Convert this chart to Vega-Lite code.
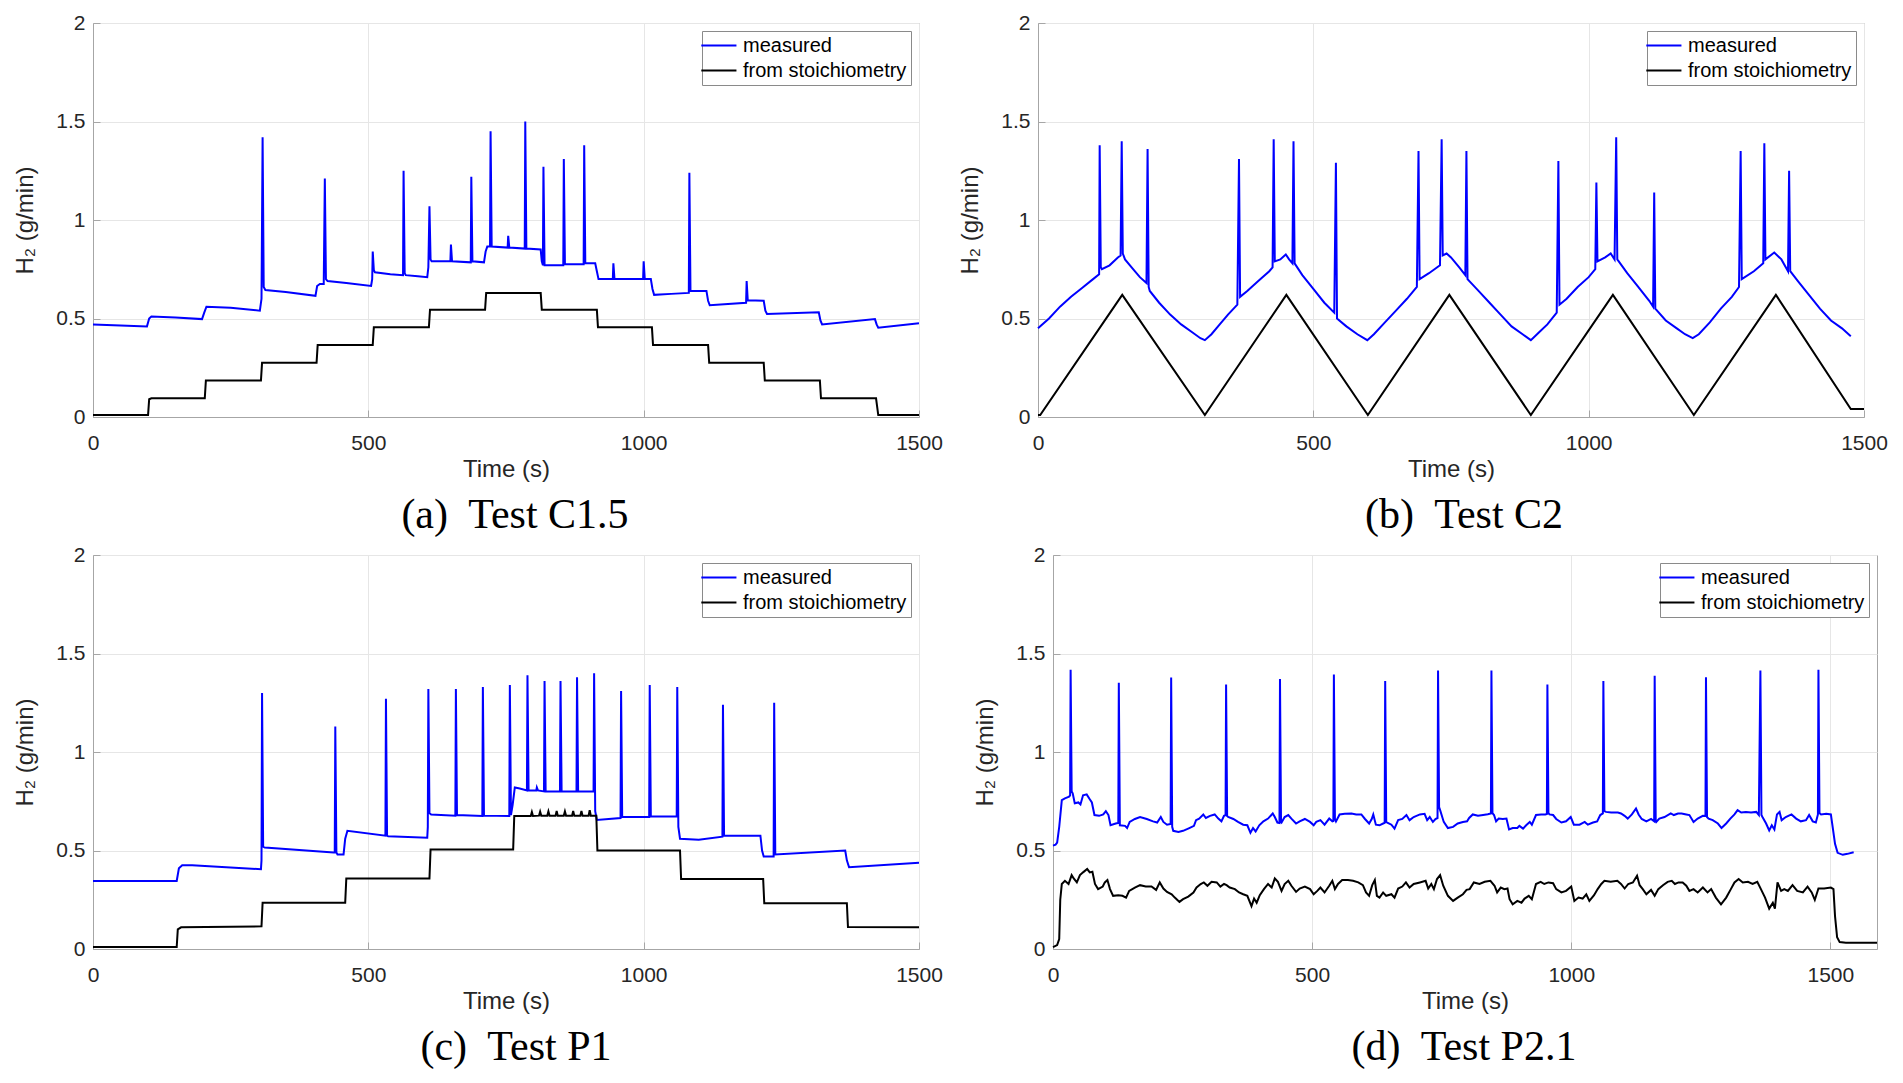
{
  "$schema": "https://vega.github.io/schema/vega-lite/v6.json",
  "autosize": {"type": "pad"},
  "padding": {"left": 12, "top": 11, "right": 10, "bottom": 10},
  "background": "white",
  "datasets": {
    "aM": [{"t":0,"v":0.47},{"t":50,"v":0.465},{"t":98,"v":0.46},{"t":102,"v":0.5},{"t":106,"v":0.51},{"t":150,"v":0.505},{"t":198,"v":0.497},{"t":202,"v":0.53},{"t":206,"v":0.56},{"t":250,"v":0.555},{"t":303,"v":0.54},{"t":306,"v":0.6},{"t":308,"v":1.42},{"t":310,"v":0.66},{"t":313,"v":0.645},{"t":350,"v":0.635},{"t":404,"v":0.615},{"t":407,"v":0.665},{"t":412,"v":0.675},{"t":419,"v":0.675},{"t":421,"v":1.21},{"t":423,"v":0.7},{"t":426,"v":0.69},{"t":460,"v":0.68},{"t":505,"v":0.665},{"t":507,"v":0.7},{"t":508,"v":0.84},{"t":510,"v":0.745},{"t":512,"v":0.735},{"t":540,"v":0.725},{"t":563,"v":0.72},{"t":564,"v":1.25},{"t":566,"v":0.73},{"t":568,"v":0.72},{"t":590,"v":0.715},{"t":607,"v":0.71},{"t":609,"v":0.76},{"t":611,"v":1.07},{"t":613,"v":0.8},{"t":615,"v":0.79},{"t":649,"v":0.79},{"t":650,"v":0.875},{"t":652,"v":0.79},{"t":686,"v":0.785},{"t":687,"v":1.22},{"t":689,"v":0.79},{"t":710,"v":0.785},{"t":713,"v":0.84},{"t":716,"v":0.865},{"t":721,"v":0.865},{"t":722,"v":1.45},{"t":724,"v":0.865},{"t":753,"v":0.86},{"t":754,"v":0.92},{"t":756,"v":0.86},{"t":784,"v":0.855},{"t":785,"v":1.5},{"t":787,"v":0.855},{"t":813,"v":0.85},{"t":815,"v":0.79},{"t":817,"v":0.77},{"t":818,"v":1.27},{"t":820,"v":0.77},{"t":854,"v":0.77},{"t":855,"v":1.31},{"t":857,"v":0.775},{"t":891,"v":0.775},{"t":892,"v":1.38},{"t":894,"v":0.78},{"t":912,"v":0.78},{"t":915,"v":0.74},{"t":918,"v":0.7},{"t":944,"v":0.7},{"t":945,"v":0.78},{"t":947,"v":0.7},{"t":999,"v":0.7},{"t":1000,"v":0.79},{"t":1002,"v":0.7},{"t":1013,"v":0.7},{"t":1016,"v":0.65},{"t":1019,"v":0.62},{"t":1050,"v":0.625},{"t":1082,"v":0.63},{"t":1083,"v":1.24},{"t":1085,"v":0.64},{"t":1114,"v":0.64},{"t":1117,"v":0.59},{"t":1120,"v":0.567},{"t":1186,"v":0.58},{"t":1187,"v":0.69},{"t":1189,"v":0.593},{"t":1218,"v":0.59},{"t":1221,"v":0.54},{"t":1224,"v":0.523},{"t":1318,"v":0.532},{"t":1321,"v":0.49},{"t":1324,"v":0.47},{"t":1420,"v":0.497},{"t":1423,"v":0.47},{"t":1426,"v":0.453},{"t":1500,"v":0.476}],
    "aS": [{"t":0,"v":0.01},{"t":100,"v":0.01},{"t":102,"v":0.09},{"t":106,"v":0.095},{"t":203,"v":0.095},{"t":205,"v":0.185},{"t":305,"v":0.185},{"t":307,"v":0.275},{"t":406,"v":0.275},{"t":408,"v":0.365},{"t":508,"v":0.365},{"t":510,"v":0.455},{"t":610,"v":0.455},{"t":612,"v":0.545},{"t":712,"v":0.545},{"t":714,"v":0.63},{"t":813,"v":0.63},{"t":815,"v":0.545},{"t":915,"v":0.545},{"t":917,"v":0.455},{"t":1015,"v":0.455},{"t":1017,"v":0.365},{"t":1117,"v":0.365},{"t":1119,"v":0.275},{"t":1218,"v":0.275},{"t":1220,"v":0.185},{"t":1320,"v":0.185},{"t":1322,"v":0.095},{"t":1422,"v":0.095},{"t":1426,"v":0.01},{"t":1500,"v":0.01}],
    "bM": [{"t":0,"v":0.45},{"t":20,"v":0.5},{"t":40,"v":0.56},{"t":60,"v":0.61},{"t":80,"v":0.655},{"t":100,"v":0.7},{"t":111,"v":0.725},{"t":112,"v":1.38},{"t":114,"v":0.76},{"t":116,"v":0.75},{"t":130,"v":0.77},{"t":145,"v":0.81},{"t":150,"v":0.82},{"t":152,"v":1.4},{"t":154,"v":0.83},{"t":158,"v":0.8},{"t":170,"v":0.76},{"t":185,"v":0.71},{"t":197,"v":0.68},{"t":199,"v":1.36},{"t":201,"v":0.66},{"t":203,"v":0.64},{"t":220,"v":0.58},{"t":240,"v":0.52},{"t":260,"v":0.47},{"t":280,"v":0.43},{"t":295,"v":0.4},{"t":303,"v":0.39},{"t":315,"v":0.42},{"t":330,"v":0.47},{"t":345,"v":0.52},{"t":362,"v":0.57},{"t":365,"v":1.31},{"t":367,"v":0.61},{"t":380,"v":0.64},{"t":400,"v":0.69},{"t":420,"v":0.74},{"t":426,"v":0.76},{"t":428,"v":1.41},{"t":430,"v":0.79},{"t":440,"v":0.8},{"t":450,"v":0.825},{"t":456,"v":0.8},{"t":462,"v":0.78},{"t":464,"v":1.4},{"t":466,"v":0.78},{"t":480,"v":0.72},{"t":500,"v":0.65},{"t":520,"v":0.58},{"t":538,"v":0.53},{"t":541,"v":1.29},{"t":543,"v":0.5},{"t":560,"v":0.46},{"t":580,"v":0.42},{"t":598,"v":0.39},{"t":610,"v":0.42},{"t":630,"v":0.48},{"t":650,"v":0.54},{"t":670,"v":0.6},{"t":688,"v":0.66},{"t":691,"v":1.35},{"t":693,"v":0.7},{"t":710,"v":0.73},{"t":730,"v":0.77},{"t":733,"v":1.41},{"t":735,"v":0.82},{"t":742,"v":0.83},{"t":750,"v":0.81},{"t":765,"v":0.76},{"t":776,"v":0.72},{"t":778,"v":1.35},{"t":780,"v":0.7},{"t":800,"v":0.64},{"t":820,"v":0.58},{"t":840,"v":0.52},{"t":860,"v":0.46},{"t":880,"v":0.42},{"t":895,"v":0.39},{"t":910,"v":0.43},{"t":925,"v":0.47},{"t":942,"v":0.53},{"t":945,"v":1.3},{"t":947,"v":0.57},{"t":960,"v":0.6},{"t":980,"v":0.66},{"t":1000,"v":0.71},{"t":1012,"v":0.75},{"t":1014,"v":1.19},{"t":1016,"v":0.79},{"t":1030,"v":0.81},{"t":1040,"v":0.83},{"t":1047,"v":0.8},{"t":1050,"v":1.42},{"t":1052,"v":0.8},{"t":1070,"v":0.73},{"t":1090,"v":0.66},{"t":1110,"v":0.59},{"t":1117,"v":0.56},{"t":1119,"v":1.14},{"t":1121,"v":0.55},{"t":1140,"v":0.49},{"t":1160,"v":0.45},{"t":1175,"v":0.42},{"t":1189,"v":0.4},{"t":1200,"v":0.42},{"t":1220,"v":0.48},{"t":1240,"v":0.55},{"t":1260,"v":0.61},{"t":1273,"v":0.66},{"t":1276,"v":1.35},{"t":1278,"v":0.7},{"t":1300,"v":0.74},{"t":1317,"v":0.78},{"t":1319,"v":1.39},{"t":1321,"v":0.8},{"t":1337,"v":0.835},{"t":1350,"v":0.8},{"t":1362,"v":0.74},{"t":1364,"v":1.25},{"t":1366,"v":0.74},{"t":1380,"v":0.69},{"t":1400,"v":0.62},{"t":1420,"v":0.55},{"t":1440,"v":0.49},{"t":1460,"v":0.45},{"t":1476,"v":0.41}],
    "bS": [{"t":0,"v":0.01},{"t":4,"v":0.01},{"t":153,"v":0.62},{"t":303,"v":0.01},{"t":451,"v":0.62},{"t":599,"v":0.01},{"t":747,"v":0.62},{"t":895,"v":0.01},{"t":1044,"v":0.62},{"t":1191,"v":0.01},{"t":1340,"v":0.62},{"t":1476,"v":0.04},{"t":1500,"v":0.04}],
    "cM": [{"t":0,"v":0.345},{"t":152,"v":0.345},{"t":156,"v":0.41},{"t":162,"v":0.425},{"t":180,"v":0.425},{"t":305,"v":0.405},{"t":306,"v":0.45},{"t":307,"v":1.3},{"t":309,"v":0.52},{"t":312,"v":0.515},{"t":437,"v":0.49},{"t":439,"v":0.49},{"t":440,"v":1.13},{"t":442,"v":0.49},{"t":444,"v":0.48},{"t":455,"v":0.48},{"t":458,"v":0.56},{"t":462,"v":0.6},{"t":531,"v":0.575},{"t":532,"v":1.27},{"t":534,"v":0.575},{"t":536,"v":0.572},{"t":607,"v":0.565},{"t":608,"v":0.62},{"t":609,"v":1.32},{"t":611,"v":0.69},{"t":614,"v":0.683},{"t":658,"v":0.677},{"t":659,"v":1.32},{"t":661,"v":0.68},{"t":707,"v":0.675},{"t":708,"v":1.33},{"t":710,"v":0.677},{"t":756,"v":0.675},{"t":757,"v":1.34},{"t":759,"v":0.68},{"t":762,"v":0.73},{"t":766,"v":0.82},{"t":775,"v":0.815},{"t":788,"v":0.805},{"t":789,"v":1.39},{"t":791,"v":0.805},{"t":805,"v":0.805},{"t":806,"v":0.82},{"t":808,"v":0.805},{"t":819,"v":0.8},{"t":820,"v":1.36},{"t":822,"v":0.8},{"t":848,"v":0.8},{"t":849,"v":1.36},{"t":851,"v":0.8},{"t":878,"v":0.8},{"t":879,"v":1.38},{"t":881,"v":0.8},{"t":909,"v":0.8},{"t":910,"v":1.4},{"t":912,"v":0.7},{"t":915,"v":0.655},{"t":958,"v":0.665},{"t":959,"v":1.31},{"t":961,"v":0.67},{"t":1010,"v":0.67},{"t":1011,"v":1.34},{"t":1013,"v":0.672},{"t":1060,"v":0.672},{"t":1061,"v":1.33},{"t":1063,"v":0.62},{"t":1066,"v":0.56},{"t":1100,"v":0.555},{"t":1143,"v":0.57},{"t":1144,"v":1.24},{"t":1146,"v":0.575},{"t":1212,"v":0.575},{"t":1215,"v":0.5},{"t":1218,"v":0.47},{"t":1236,"v":0.47},{"t":1237,"v":1.25},{"t":1239,"v":0.48},{"t":1366,"v":0.5},{"t":1369,"v":0.45},{"t":1373,"v":0.415},{"t":1500,"v":0.438}],
    "cS": [{"t":0,"v":0.01},{"t":152,"v":0.01},{"t":154,"v":0.1},{"t":160,"v":0.11},{"t":306,"v":0.115},{"t":308,"v":0.235},{"t":458,"v":0.235},{"t":460,"v":0.358},{"t":611,"v":0.358},{"t":613,"v":0.505},{"t":763,"v":0.505},{"t":765,"v":0.675},{"t":795,"v":0.675},{"t":797,"v":0.695},{"t":799,"v":0.675},{"t":810,"v":0.677},{"t":812,"v":0.697},{"t":814,"v":0.677},{"t":825,"v":0.677},{"t":827,"v":0.698},{"t":829,"v":0.677},{"t":840,"v":0.677},{"t":842,"v":0.7},{"t":844,"v":0.677},{"t":855,"v":0.677},{"t":857,"v":0.698},{"t":859,"v":0.677},{"t":870,"v":0.677},{"t":872,"v":0.7},{"t":874,"v":0.677},{"t":885,"v":0.677},{"t":887,"v":0.7},{"t":889,"v":0.677},{"t":900,"v":0.677},{"t":902,"v":0.705},{"t":904,"v":0.677},{"t":914,"v":0.677},{"t":916,"v":0.5},{"t":1066,"v":0.5},{"t":1068,"v":0.355},{"t":1217,"v":0.355},{"t":1219,"v":0.232},{"t":1369,"v":0.232},{"t":1371,"v":0.112},{"t":1500,"v":0.11}],
    "dM": [{"t":0,"v":0.525},{"t":5,"v":0.53},{"t":8,"v":0.54},{"t":12,"v":0.62},{"t":17,"v":0.756},{"t":23,"v":0.765},{"t":31,"v":0.773},{"t":33,"v":0.78},{"t":34,"v":1.417},{"t":36,"v":0.8},{"t":38,"v":0.79},{"t":42,"v":0.74},{"t":49,"v":0.744},{"t":53,"v":0.734},{"t":58,"v":0.78},{"t":65,"v":0.785},{"t":70,"v":0.764},{"t":75,"v":0.744},{"t":80,"v":0.68},{"t":89,"v":0.676},{"t":97,"v":0.683},{"t":102,"v":0.7},{"t":107,"v":0.68},{"t":111,"v":0.628},{"t":121,"v":0.637},{"t":126,"v":0.64},{"t":127,"v":1.352},{"t":129,"v":0.628},{"t":139,"v":0.625},{"t":143,"v":0.614},{"t":148,"v":0.645},{"t":158,"v":0.66},{"t":168,"v":0.67},{"t":181,"v":0.66},{"t":193,"v":0.648},{"t":201,"v":0.642},{"t":208,"v":0.67},{"t":213,"v":0.645},{"t":220,"v":0.631},{"t":227,"v":0.635},{"t":228,"v":1.378},{"t":230,"v":0.62},{"t":232,"v":0.6},{"t":242,"v":0.594},{"t":251,"v":0.6},{"t":263,"v":0.614},{"t":272,"v":0.625},{"t":276,"v":0.654},{"t":282,"v":0.662},{"t":290,"v":0.683},{"t":295,"v":0.665},{"t":303,"v":0.676},{"t":312,"v":0.683},{"t":319,"v":0.662},{"t":325,"v":0.648},{"t":330,"v":0.676},{"t":333,"v":0.68},{"t":334,"v":1.343},{"t":336,"v":0.675},{"t":338,"v":0.67},{"t":348,"v":0.66},{"t":357,"v":0.645},{"t":367,"v":0.631},{"t":375,"v":0.628},{"t":381,"v":0.59},{"t":386,"v":0.614},{"t":391,"v":0.597},{"t":398,"v":0.628},{"t":406,"v":0.648},{"t":415,"v":0.662},{"t":424,"v":0.688},{"t":428,"v":0.67},{"t":433,"v":0.642},{"t":437,"v":0.64},{"t":438,"v":1.37},{"t":440,"v":0.645},{"t":441,"v":0.642},{"t":447,"v":0.67},{"t":454,"v":0.68},{"t":460,"v":0.662},{"t":469,"v":0.637},{"t":476,"v":0.648},{"t":486,"v":0.66},{"t":496,"v":0.645},{"t":503,"v":0.628},{"t":508,"v":0.645},{"t":516,"v":0.654},{"t":524,"v":0.631},{"t":533,"v":0.662},{"t":539,"v":0.648},{"t":541,"v":0.65},{"t":542,"v":1.393},{"t":544,"v":0.66},{"t":546,"v":0.648},{"t":553,"v":0.683},{"t":563,"v":0.686},{"t":576,"v":0.688},{"t":585,"v":0.683},{"t":595,"v":0.683},{"t":602,"v":0.66},{"t":610,"v":0.637},{"t":615,"v":0.66},{"t":618,"v":0.683},{"t":623,"v":0.631},{"t":630,"v":0.628},{"t":637,"v":0.637},{"t":640,"v":0.64},{"t":641,"v":1.361},{"t":643,"v":0.645},{"t":645,"v":0.642},{"t":653,"v":0.631},{"t":659,"v":0.611},{"t":666,"v":0.654},{"t":674,"v":0.66},{"t":682,"v":0.68},{"t":688,"v":0.654},{"t":696,"v":0.67},{"t":708,"v":0.683},{"t":717,"v":0.686},{"t":722,"v":0.654},{"t":727,"v":0.67},{"t":733,"v":0.645},{"t":738,"v":0.66},{"t":742,"v":0.665},{"t":743,"v":1.414},{"t":745,"v":0.72},{"t":747,"v":0.705},{"t":754,"v":0.645},{"t":762,"v":0.614},{"t":772,"v":0.62},{"t":781,"v":0.637},{"t":791,"v":0.645},{"t":799,"v":0.648},{"t":803,"v":0.665},{"t":810,"v":0.683},{"t":820,"v":0.676},{"t":830,"v":0.68},{"t":839,"v":0.684},{"t":845,"v":0.688},{"t":846,"v":1.414},{"t":848,"v":0.69},{"t":851,"v":0.68},{"t":855,"v":0.648},{"t":860,"v":0.662},{"t":868,"v":0.66},{"t":875,"v":0.662},{"t":880,"v":0.607},{"t":887,"v":0.614},{"t":896,"v":0.614},{"t":900,"v":0.625},{"t":907,"v":0.611},{"t":913,"v":0.628},{"t":920,"v":0.645},{"t":924,"v":0.631},{"t":932,"v":0.68},{"t":942,"v":0.683},{"t":950,"v":0.683},{"t":953,"v":0.685},{"t":954,"v":1.343},{"t":956,"v":0.69},{"t":958,"v":0.683},{"t":965,"v":0.68},{"t":971,"v":0.66},{"t":981,"v":0.642},{"t":990,"v":0.648},{"t":999,"v":0.67},{"t":1005,"v":0.631},{"t":1016,"v":0.631},{"t":1026,"v":0.645},{"t":1032,"v":0.631},{"t":1042,"v":0.642},{"t":1050,"v":0.648},{"t":1056,"v":0.68},{"t":1061,"v":0.688},{"t":1062,"v":1.361},{"t":1064,"v":0.7},{"t":1067,"v":0.696},{"t":1077,"v":0.693},{"t":1090,"v":0.693},{"t":1096,"v":0.688},{"t":1103,"v":0.676},{"t":1109,"v":0.662},{"t":1117,"v":0.683},{"t":1125,"v":0.713},{"t":1130,"v":0.683},{"t":1136,"v":0.66},{"t":1145,"v":0.648},{"t":1154,"v":0.66},{"t":1160,"v":0.648},{"t":1161,"v":1.387},{"t":1163,"v":0.65},{"t":1164,"v":0.645},{"t":1170,"v":0.662},{"t":1180,"v":0.67},{"t":1192,"v":0.688},{"t":1198,"v":0.68},{"t":1206,"v":0.688},{"t":1213,"v":0.688},{"t":1222,"v":0.683},{"t":1228,"v":0.68},{"t":1236,"v":0.645},{"t":1244,"v":0.662},{"t":1254,"v":0.676},{"t":1259,"v":0.675},{"t":1260,"v":1.379},{"t":1262,"v":0.67},{"t":1265,"v":0.662},{"t":1273,"v":0.654},{"t":1283,"v":0.637},{"t":1290,"v":0.614},{"t":1299,"v":0.637},{"t":1307,"v":0.662},{"t":1315,"v":0.683},{"t":1321,"v":0.705},{"t":1328,"v":0.693},{"t":1337,"v":0.696},{"t":1347,"v":0.693},{"t":1357,"v":0.696},{"t":1362,"v":0.68},{"t":1365,"v":1.414},{"t":1367,"v":0.68},{"t":1369,"v":0.67},{"t":1376,"v":0.637},{"t":1382,"v":0.602},{"t":1387,"v":0.628},{"t":1392,"v":0.607},{"t":1397,"v":0.683},{"t":1402,"v":0.696},{"t":1406,"v":0.654},{"t":1414,"v":0.67},{"t":1425,"v":0.683},{"t":1434,"v":0.662},{"t":1443,"v":0.648},{"t":1453,"v":0.654},{"t":1459,"v":0.68},{"t":1466,"v":0.648},{"t":1472,"v":0.642},{"t":1476,"v":0.683},{"t":1477,"v":1.417},{"t":1479,"v":0.69},{"t":1482,"v":0.683},{"t":1492,"v":0.686},{"t":1501,"v":0.683},{"t":1504,"v":0.628},{"t":1509,"v":0.534},{"t":1514,"v":0.488},{"t":1524,"v":0.478},{"t":1533,"v":0.483},{"t":1545,"v":0.491}],
    "dS": [{"t":0,"v":0.01},{"t":8,"v":0.02},{"t":12,"v":0.05},{"t":14,"v":0.25},{"t":17,"v":0.33},{"t":23,"v":0.346},{"t":30,"v":0.33},{"t":36,"v":0.375},{"t":40,"v":0.358},{"t":46,"v":0.338},{"t":52,"v":0.375},{"t":58,"v":0.389},{"t":66,"v":0.406},{"t":71,"v":0.389},{"t":76,"v":0.392},{"t":81,"v":0.33},{"t":87,"v":0.304},{"t":96,"v":0.317},{"t":100,"v":0.338},{"t":105,"v":0.35},{"t":110,"v":0.304},{"t":116,"v":0.27},{"t":126,"v":0.273},{"t":134,"v":0.27},{"t":141,"v":0.261},{"t":147,"v":0.295},{"t":158,"v":0.312},{"t":168,"v":0.324},{"t":179,"v":0.317},{"t":190,"v":0.317},{"t":199,"v":0.3},{"t":206,"v":0.338},{"t":213,"v":0.307},{"t":220,"v":0.29},{"t":229,"v":0.278},{"t":235,"v":0.261},{"t":244,"v":0.239},{"t":251,"v":0.253},{"t":261,"v":0.266},{"t":271,"v":0.287},{"t":277,"v":0.312},{"t":285,"v":0.33},{"t":291,"v":0.338},{"t":298,"v":0.321},{"t":306,"v":0.341},{"t":316,"v":0.338},{"t":323,"v":0.317},{"t":330,"v":0.33},{"t":335,"v":0.324},{"t":341,"v":0.312},{"t":351,"v":0.304},{"t":359,"v":0.287},{"t":367,"v":0.278},{"t":375,"v":0.27},{"t":383,"v":0.218},{"t":388,"v":0.256},{"t":393,"v":0.235},{"t":399,"v":0.273},{"t":407,"v":0.304},{"t":415,"v":0.33},{"t":422,"v":0.312},{"t":428,"v":0.358},{"t":434,"v":0.341},{"t":441,"v":0.295},{"t":447,"v":0.33},{"t":454,"v":0.346},{"t":460,"v":0.321},{"t":469,"v":0.29},{"t":476,"v":0.307},{"t":486,"v":0.317},{"t":496,"v":0.304},{"t":503,"v":0.278},{"t":510,"v":0.295},{"t":516,"v":0.312},{"t":524,"v":0.287},{"t":533,"v":0.321},{"t":539,"v":0.346},{"t":544,"v":0.304},{"t":550,"v":0.33},{"t":558,"v":0.35},{"t":569,"v":0.35},{"t":579,"v":0.346},{"t":589,"v":0.338},{"t":598,"v":0.324},{"t":604,"v":0.287},{"t":610,"v":0.27},{"t":616,"v":0.324},{"t":621,"v":0.35},{"t":625,"v":0.27},{"t":630,"v":0.261},{"t":637,"v":0.287},{"t":643,"v":0.27},{"t":653,"v":0.278},{"t":659,"v":0.261},{"t":666,"v":0.307},{"t":674,"v":0.317},{"t":681,"v":0.338},{"t":688,"v":0.312},{"t":696,"v":0.33},{"t":708,"v":0.338},{"t":719,"v":0.346},{"t":724,"v":0.307},{"t":730,"v":0.33},{"t":735,"v":0.304},{"t":741,"v":0.355},{"t":747,"v":0.375},{"t":753,"v":0.321},{"t":762,"v":0.27},{"t":772,"v":0.244},{"t":781,"v":0.261},{"t":791,"v":0.278},{"t":798,"v":0.3},{"t":804,"v":0.304},{"t":812,"v":0.338},{"t":823,"v":0.33},{"t":833,"v":0.341},{"t":844,"v":0.346},{"t":852,"v":0.321},{"t":857,"v":0.287},{"t":864,"v":0.312},{"t":871,"v":0.304},{"t":877,"v":0.307},{"t":881,"v":0.253},{"t":887,"v":0.227},{"t":896,"v":0.244},{"t":904,"v":0.235},{"t":910,"v":0.256},{"t":918,"v":0.27},{"t":924,"v":0.253},{"t":932,"v":0.33},{"t":941,"v":0.341},{"t":948,"v":0.33},{"t":956,"v":0.338},{"t":965,"v":0.334},{"t":971,"v":0.304},{"t":981,"v":0.287},{"t":990,"v":0.295},{"t":1000,"v":0.317},{"t":1006,"v":0.244},{"t":1014,"v":0.261},{"t":1022,"v":0.256},{"t":1029,"v":0.278},{"t":1035,"v":0.244},{"t":1044,"v":0.273},{"t":1051,"v":0.304},{"t":1058,"v":0.33},{"t":1064,"v":0.346},{"t":1076,"v":0.341},{"t":1089,"v":0.346},{"t":1096,"v":0.33},{"t":1103,"v":0.307},{"t":1110,"v":0.33},{"t":1119,"v":0.338},{"t":1127,"v":0.372},{"t":1132,"v":0.324},{"t":1138,"v":0.304},{"t":1145,"v":0.278},{"t":1154,"v":0.3},{"t":1161,"v":0.27},{"t":1168,"v":0.304},{"t":1177,"v":0.324},{"t":1186,"v":0.341},{"t":1194,"v":0.346},{"t":1200,"v":0.33},{"t":1207,"v":0.338},{"t":1215,"v":0.338},{"t":1222,"v":0.321},{"t":1228,"v":0.295},{"t":1236,"v":0.304},{"t":1244,"v":0.287},{"t":1254,"v":0.312},{"t":1263,"v":0.287},{"t":1270,"v":0.304},{"t":1279,"v":0.261},{"t":1289,"v":0.227},{"t":1299,"v":0.261},{"t":1308,"v":0.304},{"t":1315,"v":0.338},{"t":1323,"v":0.355},{"t":1331,"v":0.338},{"t":1341,"v":0.341},{"t":1350,"v":0.33},{"t":1359,"v":0.341},{"t":1366,"v":0.304},{"t":1374,"v":0.261},{"t":1382,"v":0.205},{"t":1389,"v":0.235},{"t":1393,"v":0.205},{"t":1398,"v":0.338},{"t":1405,"v":0.295},{"t":1411,"v":0.304},{"t":1418,"v":0.295},{"t":1427,"v":0.324},{"t":1436,"v":0.295},{"t":1447,"v":0.287},{"t":1456,"v":0.317},{"t":1464,"v":0.287},{"t":1470,"v":0.249},{"t":1477,"v":0.307},{"t":1488,"v":0.307},{"t":1501,"v":0.312},{"t":1506,"v":0.304},{"t":1509,"v":0.167},{"t":1513,"v":0.06},{"t":1518,"v":0.035},{"t":1530,"v":0.032},{"t":1590,"v":0.032}]
  },
  "vconcat": [
    {
      "hconcat": [
        {
          "width": 826, "height": 394,
          "title": {"text": "(a)\u00a0 Test C1.5", "orient": "bottom", "anchor": "middle", "frame": "group", "dx": 9, "offset": 14, "font": "Liberation Serif", "fontSize": 42, "fontWeight": "normal", "color": "black"},
          "layer": [
            {"data": {"name": "aM"}, "mark": {"type": "line", "strokeWidth": 2},
             "encoding": {
               "x": {"field": "t", "type": "quantitative", "scale": {"domain": [0, 1500], "nice": false}, "axis": {"values": [0, 500, 1000, 1500], "format": "d", "title": "Time (s)"}},
               "y": {"field": "v", "type": "quantitative", "scale": {"domain": [0, 2], "nice": false}, "axis": {"values": [0, 0.5, 1, 1.5, 2], "format": "~g", "title": "H₂ (g/min)"}},
               "color": {"datum": "measured", "type": "nominal", "scale": {"domain": ["measured", "from stoichiometry"], "range": ["#0000ff", "#000000"]}}
             }},
            {"data": {"name": "aS"}, "mark": {"type": "line", "strokeWidth": 2},
             "encoding": {"x": {"field": "t", "type": "quantitative"}, "y": {"field": "v", "type": "quantitative"}, "color": {"datum": "from stoichiometry", "type": "nominal"}}}
          ]
        },
        {
          "width": 826, "height": 394,
          "title": {"text": "(b)\u00a0 Test C2", "orient": "bottom", "anchor": "middle", "frame": "group", "dx": 13, "offset": 14, "font": "Liberation Serif", "fontSize": 42, "fontWeight": "normal", "color": "black"},
          "layer": [
            {"data": {"name": "bM"}, "mark": {"type": "line", "strokeWidth": 2},
             "encoding": {
               "x": {"field": "t", "type": "quantitative", "scale": {"domain": [0, 1500], "nice": false}, "axis": {"values": [0, 500, 1000, 1500], "format": "d", "title": "Time (s)"}},
               "y": {"field": "v", "type": "quantitative", "scale": {"domain": [0, 2], "nice": false}, "axis": {"values": [0, 0.5, 1, 1.5, 2], "format": "~g", "title": "H₂ (g/min)"}},
               "color": {"datum": "measured", "type": "nominal", "scale": {"domain": ["measured", "from stoichiometry"], "range": ["#0000ff", "#000000"]}}
             }},
            {"data": {"name": "bS"}, "mark": {"type": "line", "strokeWidth": 2},
             "encoding": {"x": {"field": "t", "type": "quantitative"}, "y": {"field": "v", "type": "quantitative"}, "color": {"datum": "from stoichiometry", "type": "nominal"}}}
          ]
        }
      ],
      "spacing": 119,
      "bounds": "flush",
      "resolve": {"scale": {"color": "independent"}, "legend": {"color": "independent"}}
    },
    {
      "hconcat": [
        {
          "width": 826, "height": 394,
          "title": {"text": "(c)\u00a0 Test P1", "orient": "bottom", "anchor": "middle", "frame": "group", "dx": 10, "offset": 14, "font": "Liberation Serif", "fontSize": 42, "fontWeight": "normal", "color": "black"},
          "layer": [
            {"data": {"name": "cM"}, "mark": {"type": "line", "strokeWidth": 2},
             "encoding": {
               "x": {"field": "t", "type": "quantitative", "scale": {"domain": [0, 1500], "nice": false}, "axis": {"values": [0, 500, 1000, 1500], "format": "d", "title": "Time (s)"}},
               "y": {"field": "v", "type": "quantitative", "scale": {"domain": [0, 2], "nice": false}, "axis": {"values": [0, 0.5, 1, 1.5, 2], "format": "~g", "title": "H₂ (g/min)"}},
               "color": {"datum": "measured", "type": "nominal", "scale": {"domain": ["measured", "from stoichiometry"], "range": ["#0000ff", "#000000"]}}
             }},
            {"data": {"name": "cS"}, "mark": {"type": "line", "strokeWidth": 2},
             "encoding": {"x": {"field": "t", "type": "quantitative"}, "y": {"field": "v", "type": "quantitative"}, "color": {"datum": "from stoichiometry", "type": "nominal"}}}
          ]
        },
        {
          "width": 824, "height": 394,
          "title": {"text": "(d)\u00a0 Test P2.1", "orient": "bottom", "anchor": "middle", "frame": "group", "dx": -1, "offset": 14, "font": "Liberation Serif", "fontSize": 42, "fontWeight": "normal", "color": "black"},
          "layer": [
            {"data": {"name": "dM"}, "mark": {"type": "line", "strokeWidth": 2},
             "encoding": {
               "x": {"field": "t", "type": "quantitative", "scale": {"domain": [0, 1590], "nice": false}, "axis": {"values": [0, 500, 1000, 1500], "format": "d", "title": "Time (s)"}},
               "y": {"field": "v", "type": "quantitative", "scale": {"domain": [0, 2], "nice": false}, "axis": {"values": [0, 0.5, 1, 1.5, 2], "format": "~g", "title": "H₂ (g/min)"}},
               "color": {"datum": "measured", "type": "nominal", "scale": {"domain": ["measured", "from stoichiometry"], "range": ["#0000ff", "#000000"]}}
             }},
            {"data": {"name": "dS"}, "mark": {"type": "line", "strokeWidth": 2},
             "encoding": {"x": {"field": "t", "type": "quantitative"}, "y": {"field": "v", "type": "quantitative"}, "color": {"datum": "from stoichiometry", "type": "nominal"}}}
          ]
        }
      ],
      "spacing": 134,
      "bounds": "flush",
      "resolve": {"scale": {"color": "independent"}, "legend": {"color": "independent"}}
    }
  ],
  "spacing": 6,
  "resolve": {"scale": {"color": "independent"}, "legend": {"color": "independent"}},
  "config": {
    "font": "Liberation Sans",
    "view": {"stroke": "#a6a6a6", "strokeWidth": 1},
    "axis": {
      "labelFont": "Liberation Sans", "labelFontSize": 21, "labelColor": "#262626",
      "titleFont": "Liberation Sans", "titleFontSize": 24, "titleFontWeight": "normal", "titleColor": "#262626",
      "gridColor": "#e6e6e6", "gridWidth": 1,
      "domainColor": "#a6a6a6", "tickColor": "#a6a6a6", "tickSize": -7,
      "labelFlush": false, "labelOverlap": false
    },
    "axisX": {"labelPadding": 22, "titleY": 52, "titleBaseline": "middle"},
    "axisY": {"labelPadding": 15, "titleX": -68, "titleY": 197, "titleBaseline": "middle", "titleAngle": -90, "titleAlign": "center"},
    "legend": {
      "orient": "top-right", "offset": 8, "title": null,
      "symbolType": "M-1.6,0H2.1", "symbolSize": 361, "symbolStrokeWidth": 2,
      "labelFont": "Liberation Sans", "labelFontSize": 20, "labelColor": "#000000", "labelOffset": 16, "labelLimit": 400,
      "strokeColor": "#8a8a8a", "fillColor": "white", "padding": 4, "rowPadding": 4, "cornerRadius": 0
    }
  }
}
